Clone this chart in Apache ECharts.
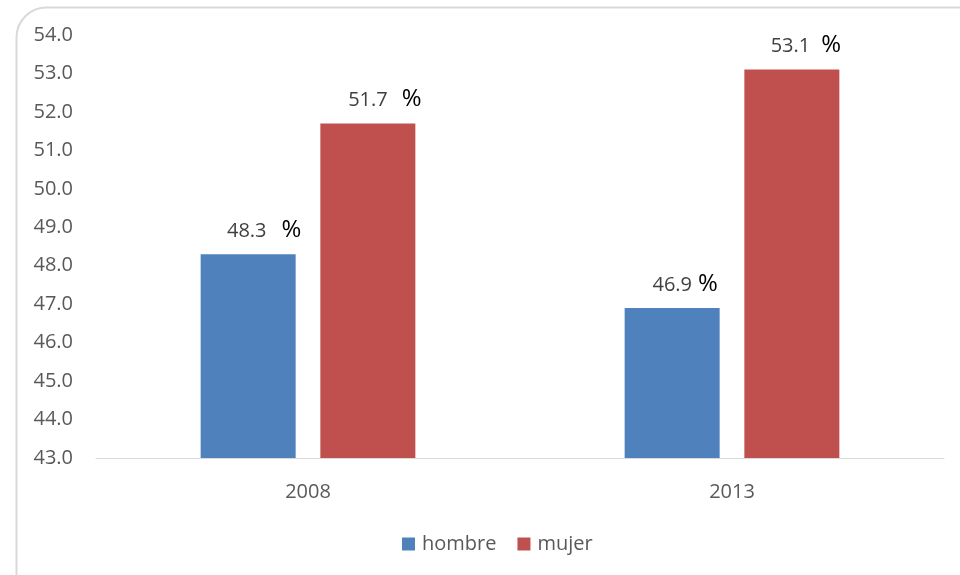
<!DOCTYPE html>
<html>
<head>
<meta charset="utf-8">
<script src="https://cdn.jsdelivr.net/npm/echarts@6/dist/echarts.min.js"></script>
<style>html,body{margin:0;padding:0;background:#fff;}#c{width:960px;height:575px;}</style>
</head>
<body>
<div id="c"></div>
<script>
const categories = ['2008', '2013'];
const seriesNames = ['hombre', 'mujer'];
const hombre = [48.3, 46.9];
const mujer = [51.7, 53.1];
const yTicks = {min: 43, max: 54, interval: 1};

const FONT = 'Open Sans';
const colors = ['#4f81bd', '#c0504d'];
// label styling per series/bar: horizontal offset and gap before the % sign
const labelOffsets = [[[16, 0], [13, 0]], [[17, 0], [14, 0]]];
const pctGaps = [[15, 6], [14, 11]];

function buildData(vals, si) {
  return vals.map((v, i) => ({
    value: v,
    label: {
      offset: labelOffsets[si][i],
      formatter: '{v|' + v.toFixed(1) + '}{p|%}',
      rich: {
        v: {fontFamily: FONT, fontSize: 20, color: '#404040'},
        p: {fontFamily: FONT, fontSize: 24, color: '#000', padding: [0, 0, 2, pctGaps[si][i]]}
      }
    }
  }));
}

const chart = echarts.init(document.getElementById('c'));
chart.setOption({
  backgroundColor: '#fff',
  animation: false,
  graphic: [{
    type: 'rect', left: 14, top: 5,
    shape: {width: 980, height: 600, r: 30},
    style: {fill: 'none', stroke: '#d9d9d9', lineWidth: 2},
    z: -10
  }],
  grid: {left: 96, right: 16, top: 35, bottom: 117},
  legend: {
    bottom: 16, left: 397,
    itemWidth: 13, itemHeight: 13, itemGap: 21,
    icon: 'rect',
    textStyle: {fontFamily: FONT, fontSize: 20, color: '#595959', padding: [0, 0, 0, 2]},
    data: seriesNames
  },
  xAxis: {
    type: 'category', data: categories,
    axisLine: {lineStyle: {color: '#d9d9d9', width: 1}},
    axisTick: {show: false},
    axisLabel: {fontFamily: FONT, fontSize: 20, color: '#595959', margin: 24}
  },
  yAxis: {
    type: 'value', min: yTicks.min, max: yTicks.max, interval: yTicks.interval,
    axisLine: {show: false}, axisTick: {show: false},
    splitLine: {show: false},
    axisLabel: {fontFamily: FONT, fontSize: 20, color: '#595959', margin: 23,
      formatter: v => v.toFixed(1)}
  },
  series: [hombre, mujer].map((vals, si) => ({
    name: seriesNames[si], type: 'bar', data: buildData(vals, si),
    barWidth: 95, barGap: '26%',
    itemStyle: {color: colors[si]},
    label: {show: true, position: 'top', distance: 10}
  }))
});
</script>
</body>
</html>
